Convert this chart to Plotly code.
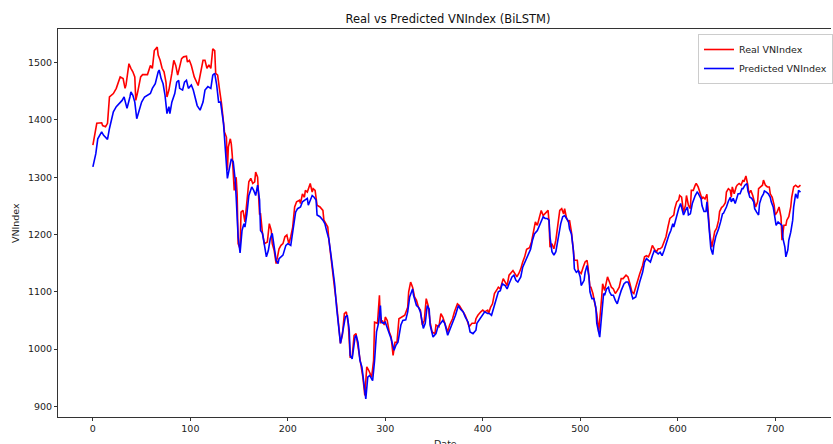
import plotly.graph_objects as go

# ---- data (index, value) ----
real_x = [0, 2, 4, 9, 10, 13, 15, 17, 21, 24, 26, 28, 31, 33, 34, 37, 39, 41, 43, 44, 46, 49, 51, 55, 56, 59, 61, 63, 66, 67, 69, 71, 73, 75, 76, 78, 80, 81, 83, 85, 87, 91, 93, 96, 97, 99, 101, 102, 104, 108, 111, 113, 115, 117, 119, 121, 123, 125, 126, 128, 130, 132, 135, 137, 138, 139, 141, 142, 143, 145, 147, 148, 149, 151, 152, 154, 156, 158, 160, 162, 164, 166, 167, 169, 171, 172, 174, 176, 179, 181, 183, 184, 186, 188, 190, 191, 193, 195, 197, 199, 201, 203, 205, 207, 209, 212, 213, 215, 217, 218, 220, 223, 225, 226, 228, 230, 233, 236, 237, 239, 241, 242, 246, 248, 250, 252, 254, 256, 258, 260, 262, 264, 266, 268, 270, 271, 274, 275, 277, 279, 281, 283, 286, 288, 289, 292, 294, 295, 297, 299, 300, 302, 304, 306, 308, 310, 312, 314, 317, 320, 323, 324, 326, 328, 330, 332, 334, 336, 338, 340, 342, 344, 346, 348, 351, 352, 355, 357, 359, 361, 364, 366, 369, 371, 374, 376, 379, 382, 384, 386, 389, 392, 393, 395, 398, 400, 402, 405, 406, 408, 410, 412, 415, 416, 418, 421, 423, 425, 427, 429, 431, 434, 435, 437, 439, 441, 443, 445, 448, 450, 452, 454, 456, 458, 460, 462, 464, 467, 468, 469, 471, 473, 475, 477, 479, 481, 483, 484, 486, 488, 489, 491, 492, 494, 495, 497, 498, 501, 503, 505, 507, 508, 510, 511, 513, 515, 517, 519, 520, 521, 522, 523, 525, 526, 528, 530, 532, 534, 536, 538, 540, 542, 544, 547, 549, 551, 553, 555, 557, 559, 561, 564, 566, 568, 570, 572, 574, 576, 578, 580, 582, 584, 586, 588, 590, 592, 594, 596, 597, 599, 601, 602, 604, 606, 608, 609, 611, 613, 614, 616, 618, 619, 621, 623, 625, 626, 628, 630, 631, 633, 635, 637, 638, 640, 642, 643, 645, 647, 649, 650, 652, 654, 655, 656, 658, 660, 661, 663, 665, 667, 668, 670, 672, 673, 675, 677, 678, 680, 682, 683, 685, 687, 688, 690, 692, 694, 695, 697, 699, 700, 702, 704, 706, 707, 709, 711, 712, 714, 716, 717, 719, 721, 723, 724, 726]
real_y = [1356, 1373, 1394, 1395, 1390, 1388, 1394, 1440, 1446, 1455, 1466, 1475, 1472, 1455, 1461, 1498, 1490, 1484, 1475, 1434, 1449, 1475, 1479, 1478, 1479, 1495, 1490, 1521, 1527, 1513, 1504, 1490, 1484, 1466, 1440, 1452, 1478, 1481, 1504, 1495, 1478, 1507, 1510, 1511, 1501, 1504, 1495, 1487, 1475, 1460, 1484, 1504, 1504, 1490, 1496, 1490, 1524, 1521, 1481, 1478, 1452, 1428, 1379, 1370, 1312, 1353, 1367, 1358, 1338, 1277, 1300, 1270, 1184, 1175, 1239, 1242, 1222, 1265, 1292, 1298, 1289, 1292, 1309, 1300, 1236, 1236, 1202, 1184, 1187, 1219, 1207, 1184, 1172, 1149, 1167, 1175, 1181, 1184, 1196, 1199, 1184, 1196, 1213, 1248, 1257, 1260, 1254, 1271, 1265, 1277, 1274, 1289, 1274, 1280, 1277, 1251, 1248, 1242, 1225, 1219, 1213, 1193, 1129, 1106, 1079, 1050, 1010, 1025, 1062, 1065, 1045, 986, 986, 1024, 1027, 1015, 986, 969, 951, 919, 969, 963, 951, 980, 1047, 1045, 1094, 1045, 1050, 1042, 1056, 1050, 1030, 1021, 989, 1012, 1012, 1053, 1056, 1059, 1073, 1100, 1117, 1108, 1091, 1085, 1073, 1068, 1042, 1050, 1088, 1076, 1047, 1030, 1027, 1042, 1039, 1062, 1056, 1045, 1030, 1042, 1053, 1065, 1079, 1076, 1068, 1059, 1050, 1039, 1045, 1045, 1053, 1059, 1065, 1068, 1065, 1068, 1062, 1073, 1079, 1097, 1105, 1108, 1105, 1123, 1117, 1111, 1129, 1134, 1137, 1129, 1126, 1132, 1140, 1152, 1161, 1174, 1177, 1187, 1204, 1222, 1216, 1228, 1242, 1233, 1236, 1242, 1222, 1178, 1184, 1175, 1190, 1216, 1242, 1245, 1236, 1245, 1228, 1222, 1225, 1204, 1190, 1155, 1155, 1155, 1137, 1132, 1143, 1152, 1155, 1143, 1108, 1108, 1097, 1082, 1062, 1030, 1045, 1070, 1090, 1114, 1102, 1111, 1126, 1117, 1108, 1105, 1097, 1102, 1108, 1123, 1123, 1129, 1126, 1114, 1100, 1097, 1108, 1123, 1131, 1146, 1161, 1163, 1161, 1169, 1181, 1175, 1169, 1175, 1175, 1178, 1187, 1196, 1213, 1228, 1231, 1234, 1245, 1257, 1260, 1268, 1265, 1239, 1251, 1268, 1251, 1245, 1277, 1277, 1286, 1289, 1283, 1274, 1262, 1265, 1262, 1270, 1240, 1200, 1178, 1193, 1205, 1211, 1225, 1240, 1247, 1250, 1256, 1274, 1280, 1277, 1265, 1283, 1271, 1283, 1286, 1289, 1286, 1295, 1292, 1302, 1286, 1271, 1277, 1268, 1260, 1248, 1257, 1280, 1283, 1286, 1295, 1286, 1283, 1283, 1271, 1265, 1251, 1234, 1239, 1248, 1231, 1190, 1216, 1216, 1225, 1231, 1248, 1265, 1283, 1286, 1283, 1283, 1286]

pred_x = [0, 3, 5, 9, 11, 15, 17, 21, 24, 27, 30, 32, 33, 35, 38, 39, 41, 43, 45, 47, 50, 53, 56, 59, 61, 64, 67, 68, 70, 72, 74, 76, 78, 79, 81, 84, 86, 88, 89, 92, 94, 96, 98, 101, 103, 105, 107, 110, 113, 115, 118, 121, 123, 125, 127, 129, 131, 134, 136, 138, 140, 142, 144, 146, 147, 149, 151, 153, 155, 156, 158, 160, 163, 165, 167, 169, 171, 172, 174, 176, 178, 180, 182, 184, 185, 188, 190, 191, 193, 195, 198, 200, 203, 205, 208, 210, 213, 215, 217, 220, 221, 224, 225, 227, 229, 230, 233, 236, 238, 240, 242, 245, 248, 250, 252, 254, 256, 259, 261, 263, 264, 266, 269, 270, 272, 274, 276, 278, 280, 282, 284, 287, 289, 291, 293, 295, 296, 298, 300, 301, 304, 306, 309, 311, 313, 316, 318, 321, 323, 325, 328, 329, 332, 334, 336, 339, 341, 343, 345, 346, 349, 352, 354, 357, 359, 361, 364, 366, 369, 372, 375, 377, 380, 382, 385, 387, 390, 393, 394, 397, 399, 402, 405, 407, 409, 411, 414, 416, 418, 420, 423, 425, 427, 430, 432, 434, 436, 439, 441, 444, 447, 449, 451, 453, 456, 458, 460, 462, 464, 466, 468, 469, 471, 473, 475, 477, 480, 482, 484, 486, 488, 489, 491, 493, 494, 496, 498, 500, 501, 504, 505, 507, 509, 510, 512, 514, 516, 517, 519, 520, 522, 523, 524, 525, 527, 529, 530, 532, 534, 536, 538, 540, 542, 545, 547, 549, 551, 553, 554, 557, 559, 561, 564, 566, 568, 570, 572, 574, 576, 578, 580, 582, 584, 586, 588, 591, 593, 595, 596, 598, 600, 601, 603, 604, 606, 608, 610, 611, 613, 615, 616, 618, 620, 621, 624, 625, 627, 629, 630, 632, 634, 636, 637, 639, 641, 642, 644, 646, 647, 649, 650, 652, 654, 655, 657, 659, 660, 662, 664, 666, 667, 669, 671, 672, 674, 676, 678, 679, 681, 683, 684, 686, 688, 689, 691, 693, 695, 696, 698, 700, 701, 703, 705, 707, 708, 710, 711, 713, 714, 716, 718, 719, 721, 723, 724, 726]
pred_y = [1318, 1341, 1367, 1379, 1373, 1366, 1385, 1414, 1423, 1428, 1434, 1440, 1434, 1420, 1440, 1449, 1443, 1431, 1402, 1414, 1431, 1440, 1443, 1446, 1455, 1463, 1484, 1487, 1472, 1463, 1443, 1411, 1423, 1411, 1431, 1446, 1466, 1469, 1455, 1452, 1466, 1469, 1455, 1461, 1452, 1440, 1425, 1417, 1431, 1452, 1458, 1455, 1478, 1481, 1461, 1431, 1431, 1394, 1350, 1298, 1315, 1332, 1327, 1295, 1265, 1196, 1168, 1207, 1219, 1213, 1236, 1268, 1283, 1277, 1268, 1286, 1260, 1207, 1202, 1178, 1161, 1172, 1193, 1202, 1190, 1155, 1149, 1158, 1161, 1164, 1181, 1184, 1181, 1207, 1239, 1245, 1248, 1257, 1260, 1263, 1251, 1265, 1268, 1265, 1260, 1234, 1231, 1225, 1219, 1205, 1193, 1155, 1114, 1073, 1039, 1010, 1027, 1056, 1059, 1033, 989, 983, 1021, 1024, 1012, 980, 969, 945, 913, 951, 954, 945, 980, 1030, 1045, 1076, 1047, 1045, 1047, 1042, 1027, 1018, 998, 1007, 1012, 1042, 1050, 1051, 1065, 1091, 1105, 1094, 1076, 1073, 1065, 1036, 1045, 1076, 1070, 1042, 1021, 1027, 1039, 1047, 1050, 1045, 1024, 1033, 1045, 1059, 1076, 1070, 1065, 1056, 1047, 1030, 1027, 1033, 1045, 1053, 1059, 1065, 1062, 1062, 1059, 1070, 1085, 1100, 1102, 1114, 1111, 1105, 1114, 1126, 1129, 1120, 1117, 1126, 1143, 1155, 1166, 1174, 1190, 1201, 1207, 1216, 1222, 1231, 1228, 1228, 1225, 1196, 1170, 1164, 1170, 1193, 1219, 1231, 1233, 1228, 1222, 1210, 1201, 1172, 1140, 1134, 1137, 1126, 1111, 1120, 1134, 1146, 1126, 1100, 1088, 1088, 1073, 1045, 1027, 1021, 1059, 1085, 1097, 1094, 1105, 1108, 1100, 1094, 1094, 1085, 1079, 1091, 1102, 1114, 1117, 1117, 1108, 1094, 1088, 1091, 1102, 1117, 1134, 1152, 1158, 1155, 1152, 1163, 1172, 1169, 1166, 1169, 1163, 1172, 1184, 1199, 1207, 1219, 1213, 1228, 1239, 1245, 1254, 1248, 1234, 1242, 1248, 1234, 1236, 1254, 1260, 1268, 1274, 1272, 1262, 1250, 1240, 1240, 1257, 1215, 1176, 1165, 1180, 1196, 1204, 1210, 1222, 1236, 1237, 1244, 1248, 1258, 1265, 1257, 1263, 1254, 1260, 1271, 1271, 1280, 1280, 1286, 1289, 1277, 1265, 1263, 1257, 1245, 1239, 1234, 1254, 1265, 1271, 1276, 1274, 1271, 1265, 1257, 1248, 1231, 1216, 1222, 1219, 1216, 1193, 1178, 1161, 1173, 1190, 1204, 1225, 1248, 1271, 1263, 1277, 1274]

x_ticks = [0, 100, 200, 300, 400, 500, 600, 700]
y_ticks = [900, 1000, 1100, 1200, 1300, 1400, 1500]

FONT = "DejaVu Sans"

fig = go.Figure()
fig.add_trace(go.Scatter(x=real_x, y=real_y, mode="lines", name="Real VNIndex",
                         line=dict(color="#ff0000", width=1.6)))
fig.add_trace(go.Scatter(x=pred_x, y=pred_y, mode="lines", name="Predicted VNIndex",
                         line=dict(color="#0000ff", width=1.6)))

fig.update_layout(
    width=833, height=444,
    margin=dict(l=58, r=0, t=29, b=27, pad=0),
    paper_bgcolor="white", plot_bgcolor="white",
    font=dict(family=FONT, size=9.5, color="#222"),
    title=dict(text="Real vs Predicted VNIndex (BiLSTM)", x=(448 - 0) / 833, xanchor="center",
               y=1 - 19 / 444, yanchor="middle", font=dict(size=11.5, color="#111")),
    showlegend=True,
    legend=dict(x=(700 - 58) / 775, y=1 - (34 - 29) / 388, xanchor="left", yanchor="top",
                bgcolor="rgba(255,255,255,0.8)", bordercolor="#cccccc", borderwidth=1,
                font=dict(size=9.5, color="#222"), itemwidth=30, tracegroupgap=0),
    xaxis=dict(range=[-35.8, 757.3], tickmode="array", tickvals=x_ticks,
               ticks="outside", ticklen=3, tickwidth=1, tickcolor="#333",
               showline=True, linecolor="#333", linewidth=1, mirror=True,
               showgrid=False, zeroline=False),
    yaxis=dict(range=[881.5, 1558.6], tickmode="array", tickvals=y_ticks,
               ticks="outside", ticklen=3, tickwidth=1, tickcolor="#333",
               showline=True, linecolor="#333", linewidth=1, mirror=False,
               showgrid=False, zeroline=False),
    annotations=[
        dict(text="VNIndex", xref="paper", yref="paper", x=-(58 - 15) / 775, y=0.5,
             xanchor="center", yanchor="middle", textangle=-90, showarrow=False,
             font=dict(size=9.5, color="#222")),
        dict(text="Date", xref="paper", yref="paper", x=(447 - 58) / 775, y=-(443 - 417) / 388,
             xanchor="center", yanchor="middle", showarrow=False,
             font=dict(size=9.5, color="#222")),
    ],
)

fig.write_html("out.html")
